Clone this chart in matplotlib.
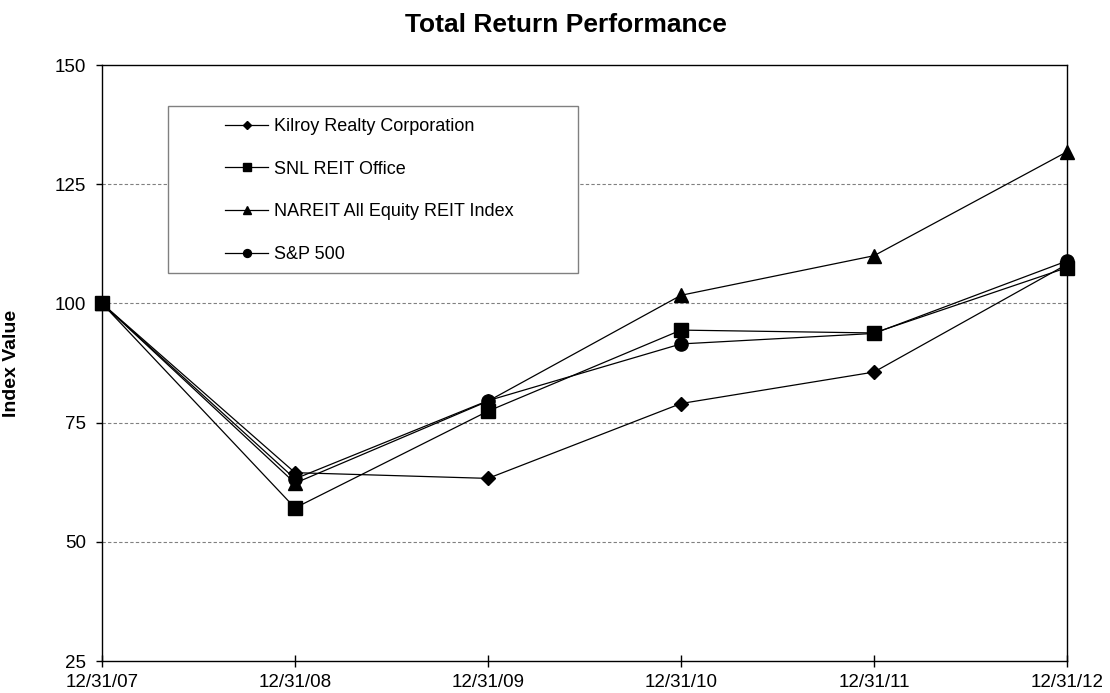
import matplotlib
matplotlib.use("Agg")
import matplotlib.pyplot as plt
from matplotlib.patches import Rectangle

dates = ["12/31/07", "12/31/08", "12/31/09", "12/31/10", "12/31/11", "12/31/12"]
kilroy = [100, 64.5, 63.3, 79.0, 85.6, 108.2]
snl_office = [100, 57.1, 77.4, 94.4, 93.8, 107.5]
nareit = [100, 62.3, 79.5, 101.7, 110.0, 131.8]
sp500 = [100, 63.2, 79.6, 91.5, 93.7, 108.9]
y_ticks = [25, 50, 75, 100, 125, 150]

series = [
    ("Kilroy Realty Corporation", kilroy, "D", 7.5),
    ("SNL REIT Office", snl_office, "s", 9.5),
    ("NAREIT All Equity REIT Index", nareit, "^", 10),
    ("S&P 500", sp500, "o", 9.5),
]

plt.rcParams["font.family"] = ["Liberation Sans", "DejaVu Sans"]

W, H = 1110, 693
fig = plt.figure(figsize=(W / 100, H / 100), dpi=100)
ax = fig.add_axes([102 / W, 1 - 661 / H, (1067 - 102) / W, (661 - 65) / H])

x = list(range(len(dates)))
for label, values, marker, ms in series:
    ax.plot(x, values, color="black", linewidth=0.9, marker=marker,
            markersize=ms, markerfacecolor="black", markeredgecolor="black",
            label=label, clip_on=False, zorder=3)

ax.set_xlim(0, len(dates) - 1)
ax.set_ylim(25, 150)
ax.set_xticks(x)
ax.set_xticklabels(dates)
ax.set_yticks(y_ticks)
for v in y_ticks[1:-1]:
    ax.axhline(v, color="#808080", linewidth=0.8, linestyle=(0, (3, 2)), zorder=0)

ax.tick_params(axis="x", direction="inout", length=9, width=1, pad=5, labelsize=13.5)
ax.tick_params(axis="y", direction="out", length=4.5, width=1, pad=7, labelsize=13.5)
for sp in ax.spines.values():
    sp.set_color("black")
    sp.set_linewidth(1.0)

ax.set_ylabel("Index Value", fontsize=14, fontweight="bold")
ax.yaxis.set_label_coords((20.5 - 102) / (1067 - 102), 0.5)

fig.text(566 / W, 1 - 32 / H, "Total Return Performance", ha="center",
         va="baseline", fontsize=19, fontweight="bold")

# legend frame drawn separately so it can be sized like the original
fig.patches.append(Rectangle((168 / W, 1 - 273 / H), (578 - 168) / W, (273 - 106) / H,
                             transform=fig.transFigure, facecolor="white",
                             edgecolor="#808080", linewidth=1.0, zorder=3))
leg = fig.legend(loc="upper left", bbox_to_anchor=(225 / W, 1 - 118 / H),
                 frameon=False, fontsize=13, markerscale=0.6,
                 handlelength=2.4, handletextpad=0.3, labelspacing=1.42,
                 borderpad=0, borderaxespad=0)
leg.set_zorder(4)

fig.savefig("out.png", dpi=100)
